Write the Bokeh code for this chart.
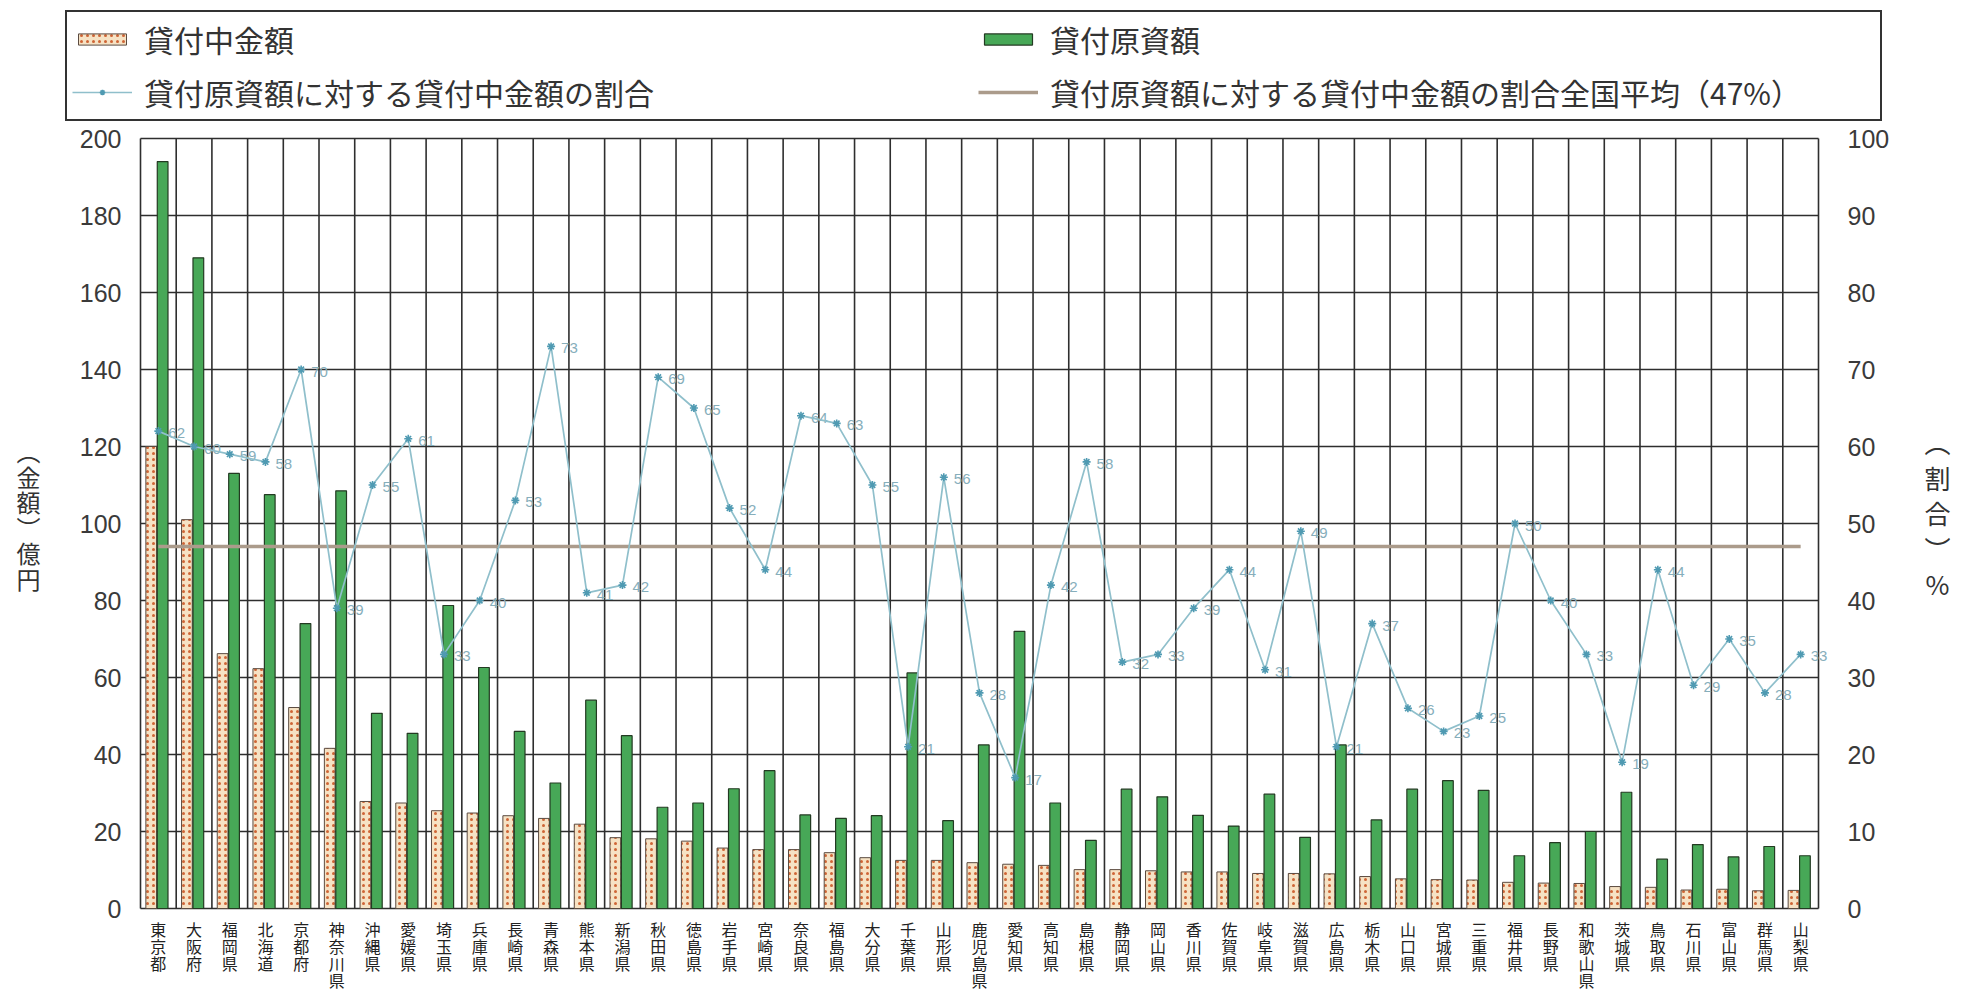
from bokeh.plotting import figure
from bokeh.models import (Range1d, LinearAxis, FixedTicker, Legend, LegendItem,
                          ColumnDataSource)
from bokeh.transform import dodge
from bokeh.embed import file_html
from bokeh.resources import INLINE
from bokeh.core.properties import value

# ---------------- data ----------------
prefectures = ["東京都", "大阪府", "福岡県", "北海道", "京都府", "神奈川県", "沖縄県", "愛媛県",
               "埼玉県", "兵庫県", "長崎県", "青森県", "熊本県", "新潟県", "秋田県", "徳島県",
               "岩手県", "宮崎県", "奈良県", "福島県", "大分県", "千葉県", "山形県", "鹿児島県",
               "愛知県", "高知県", "島根県", "静岡県", "岡山県", "香川県", "佐賀県", "岐阜県",
               "滋賀県", "広島県", "栃木県", "山口県", "宮城県", "三重県", "福井県", "長野県",
               "和歌山県", "茨城県", "鳥取県", "石川県", "富山県", "群馬県", "山梨県"]

# 貸付中金額 (億円)
balance = [120.0, 101.0, 66.2, 62.3, 52.2, 41.6, 27.8, 27.4, 25.4, 24.8, 24.1, 23.4, 21.9, 18.4,
           18.1, 17.5, 15.7, 15.3, 15.3, 14.5, 13.2, 12.5, 12.5, 11.9, 11.5, 11.2, 10.1, 10.1,
           9.8, 9.5, 9.5, 9.1, 9.1, 9.0, 8.3, 7.7, 7.5, 7.4, 6.8, 6.6, 6.5, 5.7, 5.5, 4.8, 5.0,
           4.6, 4.7]

# 貸付原資額 (億円)
fund = [194.0, 169.0, 113.0, 107.5, 74.0, 108.5, 50.7, 45.5, 78.7, 62.6, 46.0, 32.6, 54.1, 44.9,
        26.3, 27.4, 31.1, 35.8, 24.3, 23.4, 24.1, 61.2, 22.8, 42.5, 72.0, 27.4, 17.7, 31.0, 29.0,
        24.2, 21.4, 29.7, 18.5, 42.5, 23.0, 31.0, 33.2, 30.7, 13.7, 17.1, 20.0, 30.2, 12.8, 16.6,
        13.4, 16.1, 13.7]

# 貸付原資額に対する貸付中金額の割合 (%)
ratio = [62, 60, 59, 58, 70, 39, 55, 61, 33, 40, 53, 73, 41, 42, 69, 65, 52, 44, 64, 63, 55, 21,
         56, 28, 17, 42, 58, 32, 33, 39, 44, 31, 49, 21, 37, 26, 23, 25, 50, 40, 33, 19, 44, 29,
         35, 28, 33]

national_avg = 47

left_ticks = [0, 20, 40, 60, 80, 100, 120, 140, 160, 180, 200]
right_ticks = [0, 10, 20, 30, 40, 50, 60, 70, 80, 90, 100]

lbl_balance = "貸付中金額"
lbl_fund = "貸付原資額"
lbl_ratio = "貸付原資額に対する貸付中金額の割合"
lbl_avg = "貸付原資額に対する貸付中金額の割合全国平均（%d%%）" % national_avg
left_title = "︵金額︶億円"
right_title = "︵割合︶%"

# ---------------- layout (page pixels) ----------------
W, H = 1963, 998
TOP = 6                   # top of the drawing area (legend box sits just below)
PLOT_L, PLOT_R = 140, 1818
PLOT_T, PLOT_B = 138, 908
FRAME_B = PLOT_B + 14     # drawing area reaches a little below the 0 line
N = len(prefectures)
YMAX = max(left_ticks)
CELL = (PLOT_R - PLOT_L) / N
UNIT = (PLOT_B - PLOT_T) / YMAX


def px_x(px):
    return (px - PLOT_L) / CELL


def px_y(py):
    return (PLOT_B - py) / UNIT


CJK = "Noto Sans CJK JP"
NUM = "Liberation Sans"
GRID = "#2e2e2e"
pos = [i + 0.5 for i in range(N)]          # centre of each prefecture's cell

pink_style = dict(fill_color="#f6e2c4", line_color="#5b4b40", line_width=1,
                  hatch_pattern="dot", hatch_color="#cf6535", hatch_scale=6, hatch_weight=3.2)
green_style = dict(fill_color="#47a857", line_color="#233a22", line_width=1.2)
ratio_line_style = dict(line_color="#8fbfcb", line_width=1.7)
ratio_mark_style = dict(marker="asterisk", size=8, line_color="#4f9ab2", line_width=1.6)
avg_style = dict(line_color="#ab9b8b", line_width=3.5)

src = ColumnDataSource(dict(pos=pos, pref=prefectures, balance=balance, fund=fund, ratio=ratio,
                            ratio_lbl=[str(r) for r in ratio]))

# ---------------- figure: frame spans the page width, from the legend down past 0 ----------------
y_lo, y_hi = px_y(FRAME_B), px_y(TOP)
p = figure(width=W, height=H,
           x_range=Range1d(px_x(0), px_x(W)), y_range=Range1d(y_lo, y_hi),
           output_backend="svg", toolbar_location=None,
           min_border_left=0, min_border_right=0, min_border_top=TOP,
           min_border_bottom=H - FRAME_B)
p.extra_y_ranges = {"pct": Range1d(y_lo / 2, y_hi / 2)}
p.background_fill_color = "white"
p.border_fill_color = "white"
p.outline_line_color = None
p.xgrid.visible = False
p.ygrid.visible = False
p.yaxis.visible = False
p.xaxis.visible = False

# plot-area grid and border
hsrc = ColumnDataSource(dict(y=left_ticks, x0=[0] * len(left_ticks), x1=[N] * len(left_ticks)))
p.segment(x0="x0", x1="x1", y0="y", y1="y", source=hsrc, line_color=GRID, line_width=1.7)
bnd = list(range(N + 1))
vsrc = ColumnDataSource(dict(x=bnd, y0=[0] * len(bnd), y1=[YMAX] * len(bnd)))
p.segment(x0="x", x1="x", y0="y0", y1="y1", source=vsrc, line_color=GRID, line_width=1.6)

# value-axis labels
p.text(x=px_x(121), y=left_ticks, text=[str(t) for t in left_ticks], text_align="right",
       text_baseline="middle", text_font=value(NUM), text_font_size="25px", text_color="#3a3a3a")
p.text(x=px_x(1847), y=right_ticks, text=[str(t) for t in right_ticks], y_range_name="pct",
       text_align="left", text_baseline="middle", text_font=value(NUM), text_font_size="25px",
       text_color="#3a3a3a")

# axis titles in vertical writing
lt_y = [px_y(450 + 25.6 * i) for i in range(len(left_title))]
p.text(x=px_x(28), y=lt_y, text=list(left_title), text_align="center", text_baseline="middle",
       text_font=value(CJK), text_font_size="24px", text_color="#333333")
rt_y = [px_y(441 + 35.5 * i) for i in range(len(right_title))]
p.text(x=px_x(1937), y=rt_y, text=list(right_title), text_align="center",
       text_baseline="middle", text_font=value(CJK), text_font_size="26px", text_color="#333333")


def plain(ax, size, font, color):
    ax.major_label_text_font = font
    ax.major_label_text_font_size = size
    ax.major_label_text_color = color
    ax.axis_line_color = None
    ax.major_tick_line_color = None
    ax.minor_tick_line_color = None
    ax.major_tick_out = 0
    ax.major_tick_in = 0
    ax.minor_tick_out = 0
    ax.minor_tick_in = 0


# prefecture names written vertically: one axis per character row
max_len = max(len(n) for n in prefectures)
for r in range(max_len):
    ticks = [x for x, n in zip(pos, prefectures) if len(n) > r]
    over = {x: n[r] for x, n in zip(pos, prefectures) if len(n) > r}
    ax = LinearAxis(ticker=FixedTicker(ticks=ticks, minor_ticks=[]), major_label_overrides=over)
    plain(ax, "16px", CJK, "#222222")
    ax.major_label_standoff = (8 - (FRAME_B - PLOT_B)) if r == 0 else -10
    p.add_layout(ax, "below")

# ratio value labels (drawn first so bars sit over them, as in the original)
p.text(x="pos", y="ratio", text="ratio_lbl", source=src, y_range_name="pct",
       x_offset=10, y_offset=2, text_font=value(NUM), text_font_size="15px",
       text_color="#86aebb", text_baseline="middle", text_align="left")

# bars
r_pink = p.vbar(x=dodge("pos", -0.2), top="balance", width=0.3, source=src, **pink_style)
r_green = p.vbar(x=dodge("pos", 0.12), top="fund", width=0.3, source=src, **green_style)

# national average
r_avg = p.line(x=[pos[0], pos[-1]], y=[national_avg, national_avg], y_range_name="pct",
               **avg_style)

# ratio line
r_line = p.line(x="pos", y="ratio", source=src, y_range_name="pct", **ratio_line_style)
r_mark = p.scatter(x="pos", y="ratio", source=src, y_range_name="pct", **ratio_mark_style)

# ---------------- legend: boxed, two columns, at the top ----------------
legend = Legend(items=[LegendItem(label=lbl_balance, renderers=[r_pink]),
                       LegendItem(label=lbl_ratio, renderers=[r_line, r_mark]),
                       LegendItem(label=lbl_fund, renderers=[r_green]),
                       LegendItem(label=lbl_avg, renderers=[r_avg])],
                orientation="vertical", nrows=2, location=(65, FRAME_B - 121),
                padding=5, margin=0, spacing=9, glyph_width=60, glyph_height=14,
                label_standoff=12, label_width=825, label_height=44,
                label_text_font=CJK, label_text_font_size="30px", label_text_color="#333333",
                border_line_color="#333333", border_line_width=2, border_line_alpha=1,
                background_fill_color="white", background_fill_alpha=1)
p.add_layout(legend)

open("out.html", "w").write(file_html(p, INLINE))
